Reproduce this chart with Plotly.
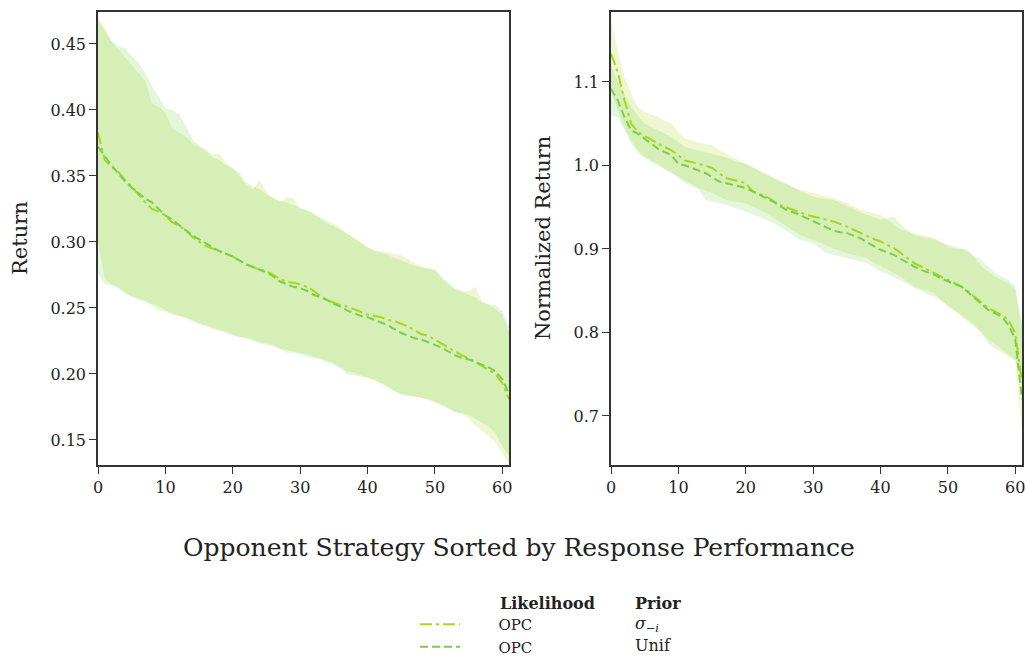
import plotly.graph_objects as go

x_vals = list(range(62))

# Left panel: Return
left_sig_mean = [0.383,0.362,0.357,0.353,0.347,0.342,0.336,0.330,0.325,0.323,0.320,0.315,0.312,0.309,0.304,0.300,0.297,0.295,0.293,0.291,0.289,0.286,0.283,0.281,0.279,0.278,0.275,0.272,0.270,0.269,0.268,0.266,0.263,0.259,0.256,0.254,0.252,0.251,0.249,0.247,0.245,0.244,0.243,0.241,0.240,0.238,0.236,0.233,0.230,0.229,0.226,0.223,0.220,0.217,0.214,0.212,0.209,0.206,0.203,0.200,0.193,0.181]
left_unif_mean = [0.372,0.365,0.358,0.352,0.346,0.341,0.337,0.333,0.330,0.325,0.320,0.317,0.313,0.309,0.305,0.302,0.299,0.296,0.293,0.291,0.289,0.286,0.283,0.281,0.279,0.277,0.274,0.270,0.268,0.266,0.265,0.263,0.260,0.258,0.256,0.253,0.251,0.248,0.246,0.244,0.243,0.241,0.239,0.237,0.234,0.231,0.229,0.227,0.226,0.224,0.222,0.220,0.217,0.214,0.212,0.211,0.209,0.207,0.205,0.202,0.196,0.185]
left_sig_hi = [0.470,0.462,0.452,0.446,0.440,0.434,0.428,0.422,0.405,0.402,0.398,0.386,0.383,0.380,0.375,0.372,0.370,0.366,0.367,0.360,0.356,0.350,0.343,0.340,0.347,0.338,0.333,0.330,0.334,0.333,0.325,0.324,0.322,0.318,0.316,0.314,0.311,0.306,0.303,0.300,0.296,0.294,0.293,0.292,0.291,0.290,0.287,0.284,0.281,0.280,0.279,0.272,0.268,0.264,0.262,0.263,0.266,0.255,0.252,0.249,0.245,0.232]
left_unif_hi = [0.468,0.460,0.452,0.448,0.447,0.441,0.436,0.428,0.418,0.410,0.401,0.400,0.397,0.388,0.378,0.373,0.369,0.364,0.362,0.358,0.356,0.352,0.345,0.342,0.340,0.336,0.333,0.331,0.330,0.328,0.326,0.324,0.321,0.318,0.314,0.312,0.309,0.306,0.303,0.299,0.296,0.293,0.292,0.290,0.288,0.286,0.284,0.282,0.281,0.280,0.279,0.274,0.269,0.265,0.263,0.260,0.258,0.254,0.253,0.252,0.248,0.236]
left_sig_lo = [0.300,0.272,0.268,0.266,0.262,0.259,0.256,0.255,0.252,0.248,0.247,0.245,0.244,0.243,0.241,0.238,0.236,0.234,0.233,0.232,0.230,0.228,0.227,0.226,0.224,0.223,0.222,0.219,0.216,0.216,0.216,0.215,0.213,0.212,0.210,0.208,0.205,0.202,0.201,0.199,0.197,0.195,0.193,0.190,0.187,0.185,0.184,0.183,0.182,0.180,0.178,0.176,0.174,0.171,0.170,0.166,0.161,0.157,0.153,0.148,0.140,0.132]
left_unif_lo = [0.276,0.268,0.267,0.265,0.261,0.258,0.257,0.255,0.253,0.251,0.248,0.246,0.244,0.242,0.240,0.238,0.237,0.235,0.233,0.231,0.229,0.228,0.227,0.225,0.223,0.222,0.221,0.219,0.218,0.217,0.215,0.213,0.212,0.211,0.209,0.207,0.204,0.200,0.199,0.198,0.197,0.196,0.193,0.190,0.187,0.184,0.183,0.183,0.182,0.181,0.179,0.177,0.174,0.171,0.170,0.169,0.166,0.163,0.160,0.155,0.145,0.138]

# Right panel: Normalized Return
right_sig_mean = [1.134,1.112,1.078,1.050,1.040,1.036,1.031,1.026,1.022,1.018,1.012,1.006,1.004,1.002,1.000,0.997,0.991,0.985,0.983,0.981,0.979,0.969,0.966,0.963,0.958,0.953,0.950,0.947,0.944,0.941,0.939,0.937,0.935,0.933,0.930,0.927,0.923,0.919,0.915,0.912,0.909,0.905,0.901,0.895,0.889,0.883,0.879,0.875,0.871,0.867,0.863,0.859,0.855,0.849,0.843,0.836,0.829,0.825,0.821,0.815,0.799,0.740]
right_unif_mean = [1.092,1.078,1.058,1.042,1.038,1.032,1.026,1.020,1.016,1.012,1.002,1.000,0.997,0.994,0.991,0.986,0.981,0.979,0.977,0.975,0.973,0.969,0.965,0.961,0.957,0.952,0.947,0.944,0.941,0.937,0.933,0.929,0.925,0.922,0.920,0.919,0.916,0.913,0.908,0.903,0.899,0.896,0.893,0.888,0.883,0.879,0.875,0.872,0.869,0.865,0.861,0.858,0.855,0.848,0.841,0.834,0.827,0.823,0.819,0.809,0.792,0.720]
right_sig_hi = [1.176,1.138,1.106,1.086,1.070,1.064,1.061,1.058,1.054,1.050,1.040,1.032,1.030,1.028,1.026,1.024,1.019,1.014,1.010,1.006,1.002,0.998,0.993,0.989,0.985,0.981,0.978,0.974,0.971,0.969,0.967,0.965,0.963,0.961,0.958,0.955,0.951,0.947,0.945,0.943,0.941,0.935,0.929,0.923,0.921,0.919,0.917,0.915,0.913,0.908,0.903,0.901,0.900,0.899,0.889,0.879,0.873,0.867,0.863,0.859,0.851,0.807]
right_sig_lo = [1.090,1.066,1.046,1.030,1.014,1.010,1.006,1.002,0.996,0.991,0.986,0.981,0.977,0.973,0.970,0.967,0.963,0.959,0.957,0.956,0.955,0.951,0.947,0.943,0.938,0.933,0.928,0.922,0.917,0.914,0.911,0.908,0.904,0.901,0.898,0.895,0.893,0.891,0.889,0.884,0.879,0.875,0.871,0.867,0.861,0.855,0.852,0.850,0.847,0.839,0.831,0.825,0.819,0.813,0.807,0.800,0.792,0.786,0.780,0.774,0.768,0.680]
right_unif_hi = [1.120,1.100,1.086,1.070,1.060,1.050,1.046,1.042,1.038,1.034,1.028,1.022,1.020,1.018,1.016,1.014,1.012,1.010,1.007,1.004,1.002,0.998,0.993,0.989,0.985,0.981,0.977,0.973,0.969,0.966,0.963,0.961,0.960,0.959,0.955,0.951,0.948,0.944,0.941,0.938,0.935,0.937,0.939,0.930,0.922,0.917,0.915,0.913,0.911,0.908,0.905,0.903,0.901,0.896,0.891,0.887,0.879,0.871,0.867,0.863,0.855,0.807]
right_unif_lo = [1.060,1.058,1.042,1.026,1.018,1.010,1.004,0.999,0.995,0.991,0.985,0.979,0.975,0.971,0.959,0.957,0.955,0.953,0.950,0.948,0.945,0.942,0.938,0.935,0.931,0.927,0.922,0.916,0.911,0.909,0.907,0.901,0.895,0.893,0.891,0.889,0.887,0.885,0.883,0.878,0.873,0.870,0.866,0.863,0.858,0.853,0.850,0.846,0.843,0.838,0.833,0.827,0.821,0.815,0.809,0.798,0.787,0.781,0.776,0.771,0.766,0.740]

left_ticks = [0.15, 0.20, 0.25, 0.30, 0.35, 0.40, 0.45]
right_ticks = [0.7, 0.8, 0.9, 1.0, 1.1]
x_ticks = [0, 10, 20, 30, 40, 50, 60]

series_names = ["OPC", "OPC"]
prior_labels = ["<i>σ</i><sub>−<i>i</i></sub>", "Unif"]
line_colors = ["#a8d61c", "#76d04c"]
fill_colors = ["rgba(168,214,28,0.2)", "rgba(118,208,76,0.2)"]
dashes = ["12px,4px,3px,4px", "8px,4px"]

FONT = "DejaVu Serif"
TXT = "#222222"

# plot-area geometry in pixels (for paper-coordinate helpers)
L, R, T, B = 98, 1022, 12, 465
def px(xp):
    return (xp - L) / (R - L)
def py(yp):
    return (B - yp) / (B - T)

fig = go.Figure()

panels = [
    ("x", "y", [(left_sig_mean, left_sig_lo, left_sig_hi), (left_unif_mean, left_unif_lo, left_unif_hi)]),
    ("x2", "y2", [(right_sig_mean, right_sig_lo, right_sig_hi), (right_unif_mean, right_unif_lo, right_unif_hi)]),
]

for xa, ya, sers in panels:
    for i, (m, lo, hi) in enumerate(sers):
        fig.add_trace(go.Scatter(x=x_vals, y=hi, xaxis=xa, yaxis=ya, mode="lines",
                                 line=dict(width=0), showlegend=False, hoverinfo="skip"))
        fig.add_trace(go.Scatter(x=x_vals, y=lo, xaxis=xa, yaxis=ya, mode="lines",
                                 line=dict(width=0), fill="tonexty", fillcolor=fill_colors[i],
                                 showlegend=False, hoverinfo="skip"))
for p, (xa, ya, sers) in enumerate(panels):
    for i, (m, lo, hi) in enumerate(sers):
        fig.add_trace(go.Scatter(x=x_vals, y=m, xaxis=xa, yaxis=ya, mode="lines",
                                 line=dict(color=line_colors[i], width=2, dash=dashes[i]),
                                 name="\u00a0" * 7 + series_names[i],
                                 showlegend=(p == 0)))

axis_common = dict(showline=True, linecolor="#333333", linewidth=1.5, mirror=True,
                   ticks="outside", ticklen=7, tickwidth=1.3, tickcolor="#333333",
                   showgrid=False, zeroline=False, automargin=False,
                   tickfont=dict(family=FONT, size=16, color=TXT))

fig.update_layout(
    width=1027, height=656,
    margin=dict(l=L, r=1027 - R, t=T, b=656 - B, autoexpand=False),
    plot_bgcolor="white", paper_bgcolor="white",
    font=dict(family=FONT, color=TXT),
    xaxis=dict(domain=[0, px(509)], range=[0, 61], tickvals=x_ticks, **axis_common),
    yaxis=dict(domain=[0, 1], range=[0.131, 0.4742], tickvals=left_ticks,
               tickformat=".2f", **axis_common),
    xaxis2=dict(domain=[px(611), 1], range=[0, 61], tickvals=x_ticks, anchor="y2", **axis_common),
    yaxis2=dict(domain=[0, 1], range=[0.6413, 1.1838], tickvals=right_ticks,
                tickformat=".1f", anchor="x2", **axis_common),
    legend=dict(x=px(415), y=py(608), xanchor="left", yanchor="top",
                traceorder="normal",
                font=dict(family=FONT, size=15, color=TXT),
                bgcolor="rgba(0,0,0,0)", tracegroupgap=0, itemwidth=40),
    showlegend=True,
)

anns = [
    dict(text="Opponent Strategy Sorted by Response Performance", x=px(519), y=py(547),
         font=dict(size=25)),
    dict(text="Return", x=px(20), y=py(238), textangle=-90, font=dict(size=21)),
    dict(text="Normalized Return", x=px(543), y=py(238), textangle=-90, font=dict(size=21)),
    dict(text="<b>Likelihood</b>", x=px(498), y=py(603), xanchor="left", font=dict(size=16)),
    dict(text="<b>Prior</b>", x=px(633), y=py(603), xanchor="left", font=dict(size=16)),
    dict(text=prior_labels[0], x=px(633), y=py(624), xanchor="left", font=dict(size=16)),
    dict(text=prior_labels[1], x=px(633), y=py(645), xanchor="left", font=dict(size=16)),
]
for a in anns:
    a.update(xref="paper", yref="paper", showarrow=False, yanchor="middle")
    a.setdefault("xanchor", "center")
    a["font"] = dict(family=FONT, color=TXT, **a["font"])
    fig.add_annotation(**a)

fig.write_html("out.html")
